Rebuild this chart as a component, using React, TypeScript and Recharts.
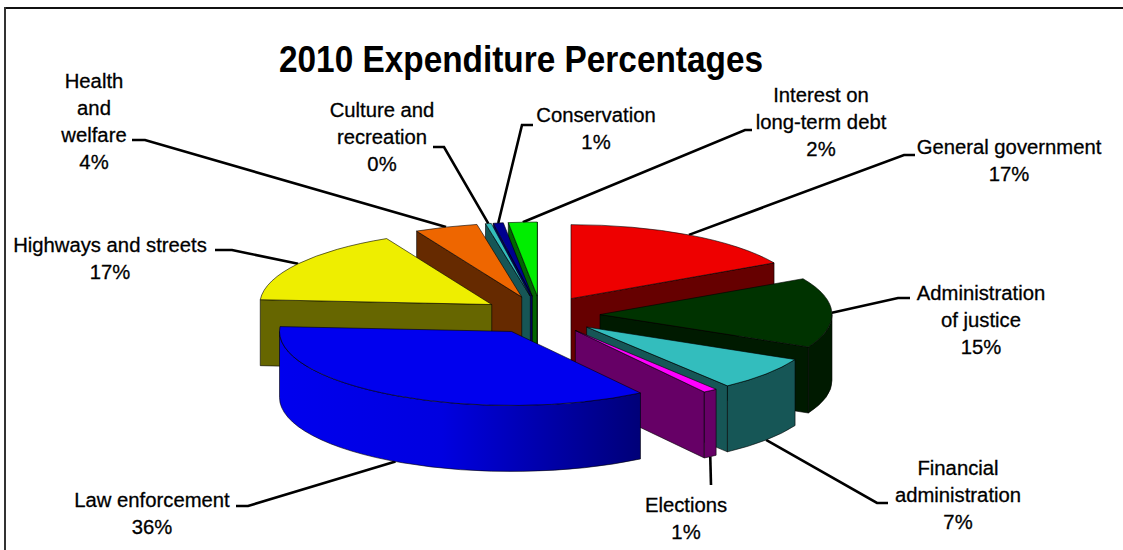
import React from 'react';
import { PieChart, Pie } from 'recharts';

// Slices clockwise from twelve o'clock
const categories = [
  'General government',
  'Administration of justice',
  'Financial administration',
  'Elections',
  'Law enforcement',
  'Highways and streets',
  'Health and welfare',
  'Culture and recreation',
  'Conservation',
  'Interest on long-term debt',
];
const percentages = [17, 15.3, 7.4, 1, 35.5, 16.5, 4.4, 0.4, 0.7, 2];
const topColors = ['#EE0000', '#003300', '#33BDBD', '#FF00FF', '#0000EE', '#EEEE00', '#EE6600', '#33BDBD', '#000090', '#00EE00'];
const sideColors = ['#660000', '#001A00', '#165656', '#660066', '#0000EE', '#666600', '#662A00', '#165656', '#000060', '#006600'];

// Text blocks: label lines, centre x, first baseline
const labelLines = [
  ['General government'],
  ['Administration', 'of justice'],
  ['Financial', 'administration'],
  ['Elections'],
  ['Law enforcement'],
  ['Highways and streets'],
  ['Health', 'and', 'welfare'],
  ['Culture and', 'recreation'],
  ['Conservation'],
  ['Interest on', 'long-term debt'],
];
const labelAnchors = [
  [1009, 154], [981, 300], [958, 475], [686, 512], [152, 507],
  [110, 252], [94, 88], [382, 117], [596, 122], [821, 102],
];
// Leader elbows, from the label side towards the slice
const leaderElbows = [
  [[915, 155], [904, 155]],
  [[910, 298], [898, 298]],
  [[888, 503], [877, 503]],
  [[711, 485]],
  [[236, 506], [248, 506]],
  [[215, 250], [232, 250]],
  [[132, 140], [145, 140]],
  [[433, 147], [444, 147]],
  [[533, 125], [522, 125]],
  [[752, 130], [745, 130]],
];

const data = categories.map((name, i) => ({ name, value: percentages[i] }));
const reversedData = [...data].reverse();

const WIDTH = 1123;
const HEIGHT = 550;
const CX = 541;
const CY = 315;
const RX = 232;
const RY = 74;
const DEPTH = 66;
const EXPLODE_X = 59;
const EXPLODE_Y = 19;
const FONT = '"Liberation Sans", Arial, sans-serif';
const TEXT_SQUEEZE = 0.965;

const rad = (deg: number) => (deg * Math.PI) / 180;

// Ellipse centre of a slice once it is pulled out along its mid angle
const sliceCentre = (cx: number, cy: number, a1: number, a2: number) => {
  const mid = rad((a1 + a2) / 2);
  return { x: cx + EXPLODE_X * Math.cos(mid), y: cy - EXPLODE_Y * Math.sin(mid) };
};

const onRim = (c: { x: number; y: number }, deg: number, r: number) => ({
  x: c.x + r * Math.cos(rad(deg)),
  y: c.y - (r * RY / RX) * Math.sin(rad(deg)),
});

// Parts of the arc [lo, hi] that lie on the near half of the ellipse
const nearRanges = (lo: number, hi: number) => {
  const out: [number, number][] = [];
  for (let k = -2; k <= 2; k++) {
    const a = Math.max(lo, 180 + 360 * k);
    const b = Math.min(hi, 360 + 360 * k);
    if (b > a) out.push([a, b]);
  }
  return out;
};

const Slice3D = (props: any) => {
  const { cx, cy, outerRadius, startAngle, endAngle, payload, name } = props;
  const label = payload?.name ?? name;
  const idx = categories.indexOf(label);
  const a1 = Math.max(startAngle, endAngle);
  const a2 = Math.min(startAngle, endAngle);
  const c = sliceCentre(cx, cy, a1, a2);
  const r = outerRadius;
  const ry = (r * RY) / RX;
  const p1 = onRim(c, a1, r);
  const p2 = onRim(c, a2, r);
  const edge = { stroke: '#000', strokeWidth: 0.8, strokeOpacity: 0.75, strokeLinejoin: 'round' as const };
  const isLaw = label === 'Law enforcement';

  const wall = (p: { x: number; y: number }) =>
    `M${c.x},${c.y} L${p.x},${p.y} L${p.x},${p.y + DEPTH} L${c.x},${c.y + DEPTH} Z`;

  return (
    <g>
      {isLaw && (
        <defs>
          <linearGradient id="lawSide" x1="0" y1="0" x2="1" y2="0">
            <stop offset="0" stopColor="#0000EE" />
            <stop offset="0.45" stopColor="#0000E0" />
            <stop offset="1" stopColor="#000078" />
          </linearGradient>
        </defs>
      )}
      {Math.cos(rad(a1)) < 0 && <path d={wall(p1)} fill={sideColors[idx]} {...edge} />}
      {Math.cos(rad(a2)) > 0 && <path d={wall(p2)} fill={sideColors[idx]} {...edge} />}
      {nearRanges(a2, a1).map(([lo, hi]) => {
        const a = onRim(c, hi, r);
        const b = onRim(c, lo, r);
        return (
          <path
            key={lo}
            d={`M${a.x},${a.y} A${r},${ry} 0 0 1 ${b.x},${b.y} L${b.x},${b.y + DEPTH} A${r},${ry} 0 0 0 ${a.x},${a.y + DEPTH} Z`}
            fill={isLaw ? 'url(#lawSide)' : sideColors[idx]}
            {...edge}
          />
        );
      })}
      <path
        d={`M${c.x},${c.y} L${p1.x},${p1.y} A${r},${ry} 0 0 1 ${p2.x},${p2.y} Z`}
        fill={topColors[idx]}
        {...edge}
      />
    </g>
  );
};

// Back slices are painted from the top of the pie outwards to the left
const BackSlice = (props: any) => {
  const idx = categories.indexOf(props.payload?.name ?? props.name);
  return idx >= 5 ? <Slice3D {...props} /> : <g />;
};
const FrontSlice = (props: any) => {
  const idx = categories.indexOf(props.payload?.name ?? props.name);
  return idx < 5 ? <Slice3D {...props} /> : <g />;
};

// Leader line and text of one slice, painted underneath the slices
const SliceLabel = (props: any) => {
  const { cx, cy, outerRadius, startAngle, endAngle, payload, name } = props;
  const idx = categories.indexOf(payload?.name ?? name);
  const a1 = Math.max(startAngle, endAngle);
  const a2 = Math.min(startAngle, endAngle);
  const mid = (a1 + a2) / 2;
  const rim = onRim(sliceCentre(cx, cy, a1, a2), mid, outerRadius);
  const endY = Math.sin(rad(mid)) < 0 ? rim.y + DEPTH : rim.y;
  const pts = [...leaderElbows[idx], [rim.x, endY]].map((p) => p.join(',')).join(' ');
  const [tx, ty] = labelAnchors[idx];
  const lines = [...labelLines[idx], `${Math.round(percentages[idx])}%`];
  return (
    <g>
      <polyline points={pts} fill="none" stroke="#000" strokeWidth={2.6} />
      <text
        transform={`translate(${tx} 0) scale(${TEXT_SQUEEZE} 1)`}
        textAnchor="middle"
        fontFamily={FONT}
        fontSize={21}
        fill="#000"
        stroke="#000"
        strokeWidth={0.3}
      >
        {lines.map((line, i) => (
          <tspan key={i} x={0} y={ty + i * 27}>{line}</tspan>
        ))}
      </text>
    </g>
  );
};

const pieGeometry = { dataKey: 'value', cx: CX, cy: CY, innerRadius: 0, outerRadius: RX, isAnimationActive: false, stroke: 'none' };

export default function App() {
  return (
    <div style={{ position: 'absolute', left: 0, top: 0, width: WIDTH, height: HEIGHT, background: '#fff', overflow: 'hidden' }}>
      <div style={{ position: 'absolute', left: 5, top: 7, right: 0, height: 2, background: '#111' }} />
      <div style={{ position: 'absolute', left: 4, top: 7, bottom: 0, width: 2, background: '#333' }} />
      <PieChart width={WIDTH} height={HEIGHT} margin={{ top: 0, right: 0, bottom: 0, left: 0 }}>
        <text x={521} y={72} textAnchor="middle" fontFamily={FONT} fontWeight="bold" fontSize={37} textLength={484} lengthAdjust="spacingAndGlyphs" fill="#000">
          2010 Expenditure Percentages
        </text>
        <Pie {...pieGeometry} data={data} startAngle={90} endAngle={-270} shape={SliceLabel} />
        <Pie {...pieGeometry} data={reversedData} startAngle={90} endAngle={450} shape={BackSlice} />
        <Pie {...pieGeometry} data={data} startAngle={90} endAngle={-270} shape={FrontSlice} />
      </PieChart>
    </div>
  );
}
